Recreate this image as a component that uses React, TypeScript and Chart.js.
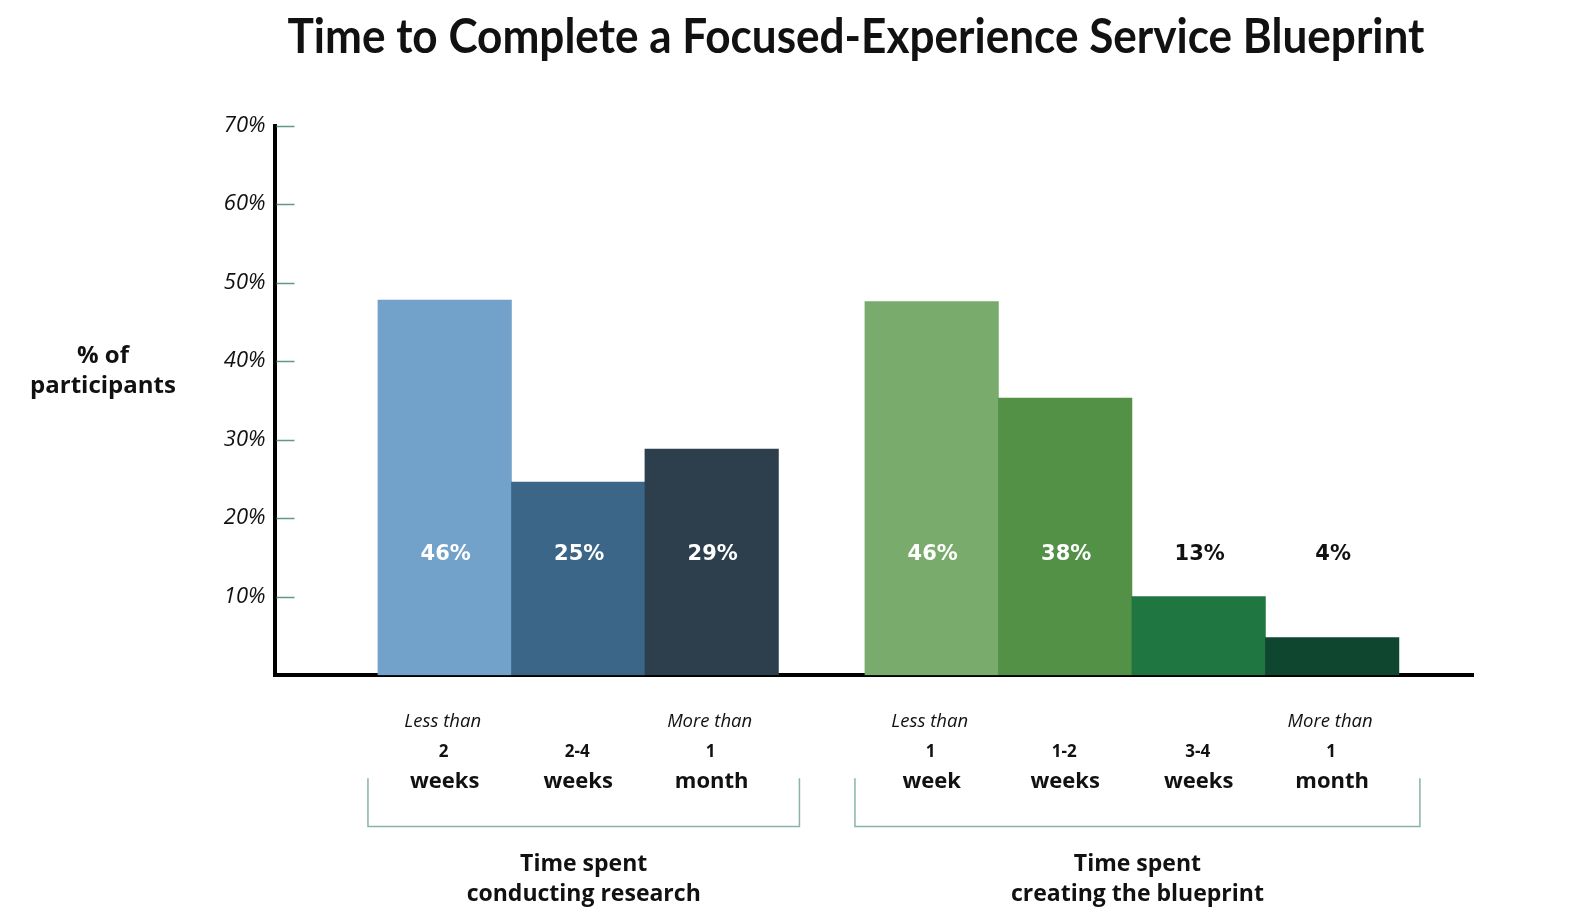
import React, { useEffect, useRef } from 'react';
import { Chart, registerables } from 'chart.js';

Chart.register(...registerables);

// ---------- data ----------
const TITLE = 'Time to Complete a Focused-Experience Service Blueprint';
const Y_TITLE = ['% of', 'participants'];
const CATEGORY_QUALIFIERS = ['Less than', '', 'More than', 'Less than', '', '', 'More than'];
const CATEGORY_AMOUNTS = ['2', '2-4', '1', '1', '1-2', '3-4', '1'];
const CATEGORY_UNITS = ['weeks', 'weeks', 'month', 'week', 'weeks', 'weeks', 'month'];
const BAR_HEIGHTS = [47.8, 24.6, 28.8, 47.6, 35.3, 10.0, 4.8];
const VALUE_LABELS = ['46%', '25%', '29%', '46%', '38%', '13%', '4%'];
const GROUP_TITLES = [
  ['Time spent', 'conducting research'],
  ['Time spent', 'creating the blueprint'],
];
const GROUP_SIZES = [3, 4];
const Y_MIN = 0;
const Y_MAX = 70;
const Y_STEP = 10;

// ---------- style ----------
const BAR_COLORS = ['#72a1c9', '#3b6688', '#2d3f4d', '#79ab6c', '#529146', '#1f7640', '#0f4630'];
const GROUP_GAP = 0.648; // gap between groups, in bar widths
const LABEL_LEVEL = 15.4; // axis value at which value labels sit
const X_MIN = -1.275;
const X_MAX = 7.703;
const TEXT = '#111111';
const TICK_MARK = '#5f968e';
const BRACKET = '#8ab2aa';

// x positions derived from indices and the group gap
const xPositions: number[] = [];
const groupOf: number[] = [];
{
  let idx = 0;
  GROUP_SIZES.forEach((n, g) => {
    for (let k = 0; k < n; k++) {
      xPositions.push(idx + g * GROUP_GAP);
      groupOf.push(g);
      idx++;
    }
  });
}

const annotations = {
  id: 'annotations',
  afterDraw(chart: any) {
    const { ctx, chartArea, scales } = chart;
    const y = scales.y;
    const meta = chart.getDatasetMeta(0);
    ctx.save();

    // tick marks
    ctx.strokeStyle = TICK_MARK;
    ctx.lineWidth = 1.5;
    y.ticks.forEach((t: any) => {
      if (t.value <= Y_MIN) return;
      const py = Math.round(y.getPixelForValue(t.value)) + 0.5;
      ctx.beginPath();
      ctx.moveTo(chartArea.left + 2, py);
      ctx.lineTo(chartArea.left + 20, py);
      ctx.stroke();
    });

    // title
    ctx.fillStyle = TEXT;
    ctx.textAlign = 'center';
    ctx.textBaseline = 'alphabetic';
    ctx.font = 'bold 48px Lato, "Open Sans", sans-serif';
    const targetW = 1137;
    const w = ctx.measureText(TITLE).width;
    ctx.save();
    ctx.translate(856, 53);
    if (w > targetW) ctx.scale(targetW / w, 1);
    ctx.fillText(TITLE, 0, 0);
    ctx.restore();

    // y title
    ctx.font = 'bold 24px "Open Sans", sans-serif';
    ctx.textBaseline = 'middle';
    Y_TITLE.forEach((line, i) => ctx.fillText(line, 103, 356 + i * 30));

    // value labels
    const ly = y.getPixelForValue(LABEL_LEVEL);
    ctx.font = 'bold 21px "DejaVu Sans", sans-serif';
    meta.data.forEach((bar: any, i: number) => {
      ctx.fillStyle = BAR_HEIGHTS[i] > LABEL_LEVEL + 2 ? '#ffffff' : TEXT;
      ctx.fillText(VALUE_LABELS[i], bar.x + 1, ly);
    });

    // category labels
    ctx.fillStyle = TEXT;
    ctx.textBaseline = 'alphabetic';
    const b = chartArea.bottom;
    meta.data.forEach((bar: any, i: number) => {
      if (CATEGORY_QUALIFIERS[i]) {
        ctx.font = 'italic 18.5px "Open Sans", sans-serif';
        ctx.fillText(CATEGORY_QUALIFIERS[i], bar.x - 2, b + 52);
      }
      ctx.font = 'bold 17px "Open Sans", sans-serif';
      ctx.fillText(CATEGORY_AMOUNTS[i], bar.x - 1, b + 82);
      ctx.font = 'bold 22px "Open Sans", sans-serif';
      ctx.fillText(CATEGORY_UNITS[i], bar.x, b + 113);
    });

    // brackets + group titles
    GROUP_TITLES.forEach((lines, g) => {
      const bars = meta.data.filter((_: any, i: number) => groupOf[i] === g);
      const first = bars[0];
      const last = bars[bars.length - 1];
      const x1 = first.x - first.width / 2 - 10;
      const x2 = last.x + last.width / 2 + 21;
      const top = b + 103;
      const bot = Math.round(b + 151) + 0.5;
      ctx.strokeStyle = BRACKET;
      ctx.lineWidth = 1.5;
      ctx.beginPath();
      ctx.moveTo(x1, top);
      ctx.lineTo(x1, bot);
      ctx.lineTo(x2, bot);
      ctx.lineTo(x2, top);
      ctx.stroke();

      ctx.fillStyle = TEXT;
      ctx.font = 'bold 23px "Open Sans", sans-serif';
      ctx.textBaseline = 'middle';
      const cx = (x1 + x2) / 2;
      lines.forEach((line, i) => ctx.fillText(line, cx, b + 189 + i * 30));
      ctx.textBaseline = 'alphabetic';
    });

    ctx.restore();
  },
};

export default function App() {
  const ref = useRef<HTMLCanvasElement | null>(null);

  useEffect(() => {
    if (!ref.current) return;
    const chart = new Chart(ref.current, {
      type: 'bar',
      data: {
        datasets: [
          {
            data: BAR_HEIGHTS.map((v, i) => ({ x: xPositions[i], y: v })),
            backgroundColor: BAR_COLORS,
            borderWidth: 0,
            barPercentage: 1,
            categoryPercentage: 1,
          },
        ],
      },
      options: {
        animation: false,
        responsive: false,
        devicePixelRatio: 1,
        layout: { padding: { left: 0, top: 125.7, right: 119, bottom: 247.8 } },
        plugins: {
          legend: { display: false },
          title: { display: false },
          tooltip: { enabled: false },
        },
        scales: {
          x: {
            type: 'linear',
            min: X_MIN,
            max: X_MAX,
            offset: false,
            z: 1,
            ticks: { display: false },
            grid: { display: false, drawTicks: false, offset: false },
            border: { display: true, color: '#000000', width: 4 },
            afterBuildTicks: (axis: any) => {
              axis.ticks = [{ value: X_MIN }];
            },
            afterFit: (axis: any) => {
              axis.height = 0;
            },
          },
          y: {
            min: Y_MIN,
            max: Y_MAX,
            z: 1,
            ticks: {
              stepSize: Y_STEP,
              padding: 9,
              color: TEXT,
              font: { family: '"Open Sans", sans-serif', size: 22, style: 'italic' },
              callback: (v: any) => (Number(v) === 0 ? '' : `${v}%`),
            },
            grid: { display: false, drawTicks: false },
            border: { display: true, color: '#000000', width: 4 },
            afterFit: (axis: any) => {
              axis.width = 274.5;
            },
          },
        },
      },
      plugins: [annotations],
    } as any);
    return () => chart.destroy();
  }, []);

  return (
    <div style={{ position: 'absolute', left: 0, top: 0, width: 1592, height: 923, background: '#ffffff' }}>
      <canvas ref={ref} width={1592} height={923} style={{ display: 'block' }} />
    </div>
  );
}
